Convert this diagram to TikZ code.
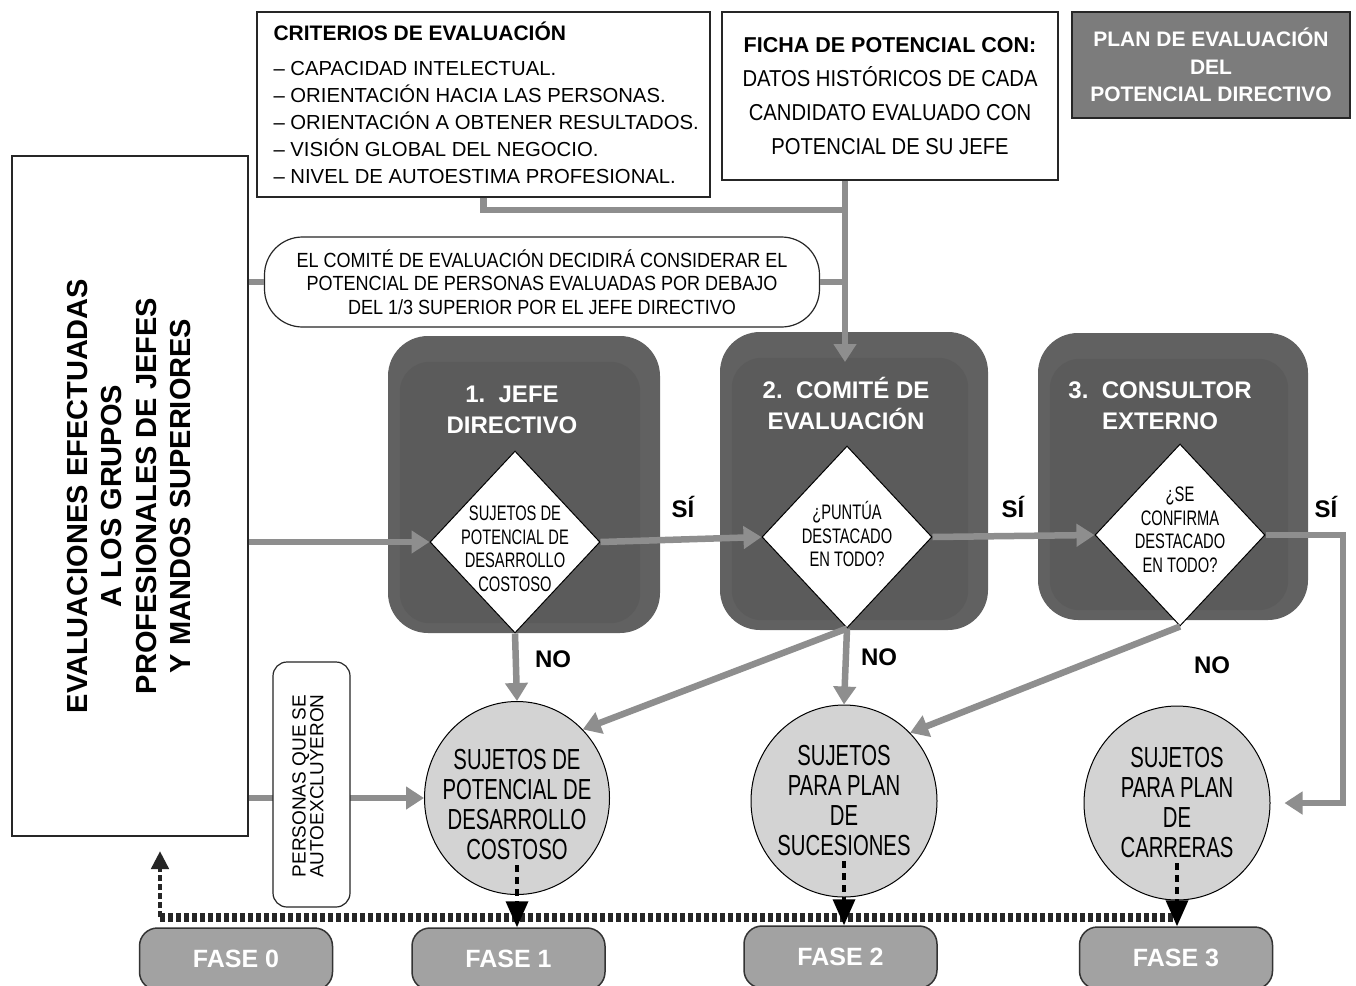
\documentclass[tikz,border=0pt]{standalone}
\usepackage{fontspec}
\setmainfont{Liberation Sans}
\newfontfamily\condfont[FakeStretch=0.7]{Liberation Sans}
\newfontfamily\narrowfont[FakeStretch=0.88]{Liberation Sans}
\usetikzlibrary{shapes.geometric,arrows.meta}

\definecolor{flowgray}{HTML}{8E8E8E}
\definecolor{blockgray}{HTML}{616161}
\definecolor{blockface}{HTML}{5B5B5B}
\definecolor{circgray}{HTML}{D3D3D3}
\definecolor{fasegray}{HTML}{A2A2A2}
\definecolor{plangray}{HTML}{7C7C7C}

\tikzset{
	box/.style={draw=black!85, line width=1.2pt, fill=white, inner sep=0pt},
	block/.style={fill=blockgray, rounded corners=40pt, inner sep=0pt},
	blocktitle/.style={text=white, align=center, font=\bfseries\fontsize{24}{31}\selectfont},
	question/.style={diamond, draw=black, line width=1pt, fill=white, inner sep=0pt, minimum width=170pt, minimum height=182pt},
	questiontext/.style={align=center, inner sep=0pt, font=\condfont\fontsize{21}{23.5}\selectfont},
	subjects/.style={ellipse, draw=black, line width=1pt, fill=circgray, inner sep=0pt},
	subjecttext/.style={align=center, inner sep=0pt, font=\condfont\fontsize{29}{30}\selectfont},
	fase/.style={draw=black!80, line width=1.5pt, fill=fasegray, rounded corners=18pt, minimum width=193pt, minimum height=62pt, text=white, font=\bfseries\fontsize{25}{25}\selectfont},
	answer/.style={font=\bfseries\fontsize{24}{24}\selectfont},
	flow/.style={draw=flowgray, line width=6.5pt},
	flowarr/.style={flow, -{Triangle[length=18pt,width=22pt]}},
	dotarr/.style={line width=3.5pt, dash pattern=on 7pt off 5pt, -{Triangle[length=26pt,width=22pt]}},
	phaseline/.style={draw=black!85, line width=9pt, dash pattern=on 5pt off 3pt},
	phasearr/.style={draw=black!85, line width=4.5pt, dash pattern=on 6pt off 3pt, -{Triangle[length=18pt,width=17pt]}},
}

\begin{document}
\begin{tikzpicture}[x=1pt, y=-1pt]
	\fill[white] (0,0) rectangle (1356,985);
	\useasboundingbox (0,0) rectangle (1356,985);

	% top boxes
	\node[box, minimum width=453pt, minimum height=185pt] (crit) at (483.5,104.5) {};
	\node[anchor=base west, font=\bfseries\fontsize{21}{24}\selectfont] (crittitle) at (270,40) {CRITERIOS DE EVALUACIÓN};
	\foreach \t [count=\i] in {CAPACIDAD INTELECTUAL., ORIENTACIÓN HACIA LAS PERSONAS., ORIENTACIÓN A OBTENER RESULTADOS., VISIÓN GLOBAL DEL NEGOCIO., NIVEL DE AUTOESTIMA PROFESIONAL.}
		\node[anchor=base west, font=\fontsize{20.3}{24}\selectfont] (crit\i) at (270,{48+27*\i}) {– \t};

	\node[box, minimum width=336pt, minimum height=168pt, align=center, font=\narrowfont\fontsize{23}{34}\selectfont] (ficha) at (890,96)
		{{\rmfamily\bfseries\fontsize{21.5}{34}\selectfont FICHA DE POTENCIAL CON:}\\DATOS HISTÓRICOS DE CADA\\CANDIDATO EVALUADO CON\\POTENCIAL DE SU JEFE};

	\node[box, fill=plangray, minimum width=278pt, minimum height=106pt, text=white, align=center, font=\bfseries\fontsize{21}{27.5}\selectfont] (plan) at (1211,65)
		{PLAN DE EVALUACIÓN\\DEL\\POTENCIAL DIRECTIVO};

	\node[box, line width=2.5pt, minimum width=236pt, minimum height=680pt] (evalbox) at (130,496) {};
	\node[rotate=90, align=center, font=\bfseries\fontsize{29}{34.5}\selectfont] (evaltext) at (129,496)
		{EVALUACIONES EFECTUADAS\\A LOS GRUPOS\\PROFESIONALES DE JEFES\\Y MANDOS SUPERIORES};

	\node[box, rounded corners=38pt, minimum width=555pt, minimum height=90pt, align=center, font=\narrowfont\fontsize{20.5}{23.5}\selectfont] (oval) at (542,282)
		{EL COMITÉ DE EVALUACIÓN DECIDIRÁ CONSIDERAR EL\\POTENCIAL DE PERSONAS EVALUADAS POR DEBAJO\\DEL 1/3 SUPERIOR POR EL JEFE DIRECTIVO};

	% evaluators
	\node[block, minimum width=272pt, minimum height=297pt] (b1) at (524,484.5) {};
	\node[block, minimum width=268pt, minimum height=298pt] (b2) at (854,481) {};
	\node[block, minimum width=270pt, minimum height=287pt] (b3) at (1173,476.5) {};
	\foreach \b in {b1,b2,b3}
		\fill[blockface, rounded corners=30pt] ([xshift=12pt,yshift=-26pt]\b.north west) rectangle ([xshift=-20pt,yshift=10pt]\b.south east);
	\node[blocktitle] (b1t) at (512,410) {1.\ \ JEFE\\DIRECTIVO};
	\node[blocktitle] (b2t) at (846,403.5) {2.\ \ COMITÉ DE\\EVALUACIÓN};
	\node[blocktitle] (b3t) at (1160,405.5) {3.\ \ CONSULTOR\\EXTERNO};

	\node[question] (d1) at (515,542) {};
	\node[question] (d2) at (847,537) {};
	\node[question] (d3) at (1180,535) {};
	\node[questiontext] (d1t) at (515,549) {SUJETOS DE\\POTENCIAL DE\\DESARROLLO\\COSTOSO};
	\node[questiontext] (d2t) at (847,534) {¿PUNTÚA\\DESTACADO\\EN TODO?};
	\node[questiontext] (d3t) at (1180,530) {¿SE\\CONFIRMA\\DESTACADO\\EN TODO?};

	\node[answer] (si1) at (683,507) {SÍ};
	\node[answer] (si2) at (1013,507) {SÍ};
	\node[answer] (si3) at (1326,507) {SÍ};
	\node[answer] (no1) at (553,659) {NO};
	\node[answer] (no2) at (879,657) {NO};
	\node[answer] (no3) at (1212,665) {NO};

	% results
	\node[subjects, minimum width=185pt, minimum height=193pt] (c1) at (517,798) {};
	\node[subjects, minimum width=186pt, minimum height=192pt] (c2) at (844,801) {};
	\node[subjects, minimum width=186pt, minimum height=194pt] (c3) at (1177,803) {};
	\node[subjecttext] (c1t) at (517,805) {SUJETOS DE\\POTENCIAL DE\\DESARROLLO\\COSTOSO};
	\node[subjecttext] (c2t) at (844,801) {SUJETOS\\PARA PLAN\\DE\\SUCESIONES};
	\node[subjecttext] (c3t) at (1177,803) {SUJETOS\\PARA PLAN\\DE\\CARRERAS};

	\node[fase] (f0) at (236,959) {FASE 0};
	\node[fase] (f1) at (508.5,959) {FASE 1};
	\node[fase] (f2) at (840.5,957) {FASE 2};
	\node[fase] (f3) at (1176,958) {FASE 3};

	\coordinate (join) at (845,210);
	\coordinate (b2in) at (845,362);
	\coordinate (sibend) at (1343,535);
	\coordinate (ph0) at (160,917);
	\coordinate (evalin) at (160,851);

	% gray connectors
	\draw[flow] (crit.south) |- (join);
	\draw[flowarr] (join |- ficha.south) -- (b2in);
	\draw[flow] (oval.east) -- (oval.east -| join);
	\draw[flow] (evalbox.east |- oval.west) -- (oval.west);

	\draw[flowarr] (evalbox.east |- d1.west) -- (d1.west);
	\draw[flowarr] (d1.east) -- (d2.west);
	\draw[flowarr] (d2.east) -- (d3.west);
	\draw[flowarr, shorten >=14pt] (d3.east) -- (sibend) |- (c3.east);

	\draw[flowarr] (d1.south) -- (c1.north);
	\draw[flowarr] (d2.south) -- (c2.north);
	\draw[flowarr] (d2.south) -- (c1.north east);
	\draw[flowarr] (d3.south) -- (c2.north east);

	\draw[flowarr] (evalbox.east |- c1.west) -- (c1.west);
	\node[box, rounded corners=14pt, minimum width=77pt, minimum height=245pt] (pers) at (311.5,784.5) {};
	\node[rotate=90, align=center, font=\fontsize{19}{15.5}\selectfont] (perstext) at (308,786) {PERSONAS QUE SE\\AUTOEXCLUYERON};

	% phases
	\draw[phaseline] (ph0) -- (c3.center |- ph0);
	\draw[phasearr] (ph0) -- (evalin);
	\draw[dotarr] ([yshift=-5pt]c1t.south) -- (c1t.south |- f1.north);
	\draw[dotarr] ([yshift=-5pt]c2t.south) -- (c2t.south |- f2.north);
	\draw[dotarr] ([yshift=-5pt]c3t.south) -- (c3t.south |- f3.north);
\end{tikzpicture}
\end{document}
